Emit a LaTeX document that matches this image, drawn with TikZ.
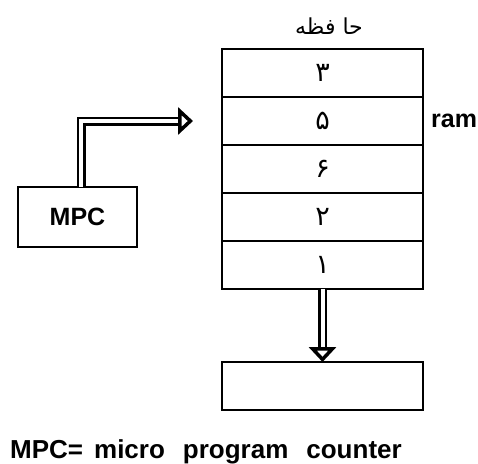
\documentclass[tikz,border=0pt]{standalone}
\usepackage{fontspec}
\setmainfont{Liberation Sans}
\newfontfamily\farsi[Script=Arabic]{DejaVu Sans}
\TeXXeTstate=1
\usetikzlibrary{arrows.meta, positioning}

\begin{document}
\begin{tikzpicture}[
    x=1pt, y=-1pt,
    font=\bfseries,
    % box styles
    cell/.style={rectangle, draw, line width=2.5pt, outer sep=0pt, minimum width=201pt, minimum height=48pt, inner sep=0pt, font=\farsi\fontsize{27}{27}\selectfont},
    reg_box/.style={rectangle, draw, line width=2.5pt, outer sep=0pt, minimum width=119pt, minimum height=60pt, font=\bfseries\fontsize{25}{25}\selectfont},
    big_label/.style={inner sep=0pt, font=\bfseries\fontsize{25}{25}\selectfont},
    % double arrow
    bus/.style={draw, line width=2.5pt, double=white, double distance=4pt, -{Triangle[open, length=15pt, width=27pt, line width=3.5pt]}}
]
\useasboundingbox (0,0) rectangle (478,463);

% --- MEMORY ---
\node[cell, anchor=north west] (r1) at (222,49) {\beginR ۳\endR};
\foreach \d [count=\i from 2, evaluate=\i as \p using int(\i-1)] in {۵,۶,۲,۱} {
    \node[cell, below=0pt of r\p] (r\i) {\beginR \d\endR};
}
\node[font=\farsi\fontsize{22}{22}\selectfont] (title) at (329,26) {\beginR حا فظه\endR};
\node[big_label, anchor=west] (ram) at (431,121) {ram};

% --- MPC ---
\node[reg_box] (mpc) at (77.5,217) {MPC};
\coordinate (mpc_tip) at ([xshift=-29pt]r2.west);

% --- OUTPUT ---
\node[cell, below=73pt of r5] (out) {};

% --- ARROWS ---
\draw[bus] ([xshift=3.5pt]mpc.north) |- (mpc_tip);
\draw[bus] (r5.south) -- (out.north);

\node[big_label, anchor=base west, font=\bfseries\fontsize{26}{26}\selectfont] (note) at (10,458) {MPC=\hspace{11pt}micro\hspace{18pt}program\hspace{18pt}counter};
\end{tikzpicture}
\end{document}
